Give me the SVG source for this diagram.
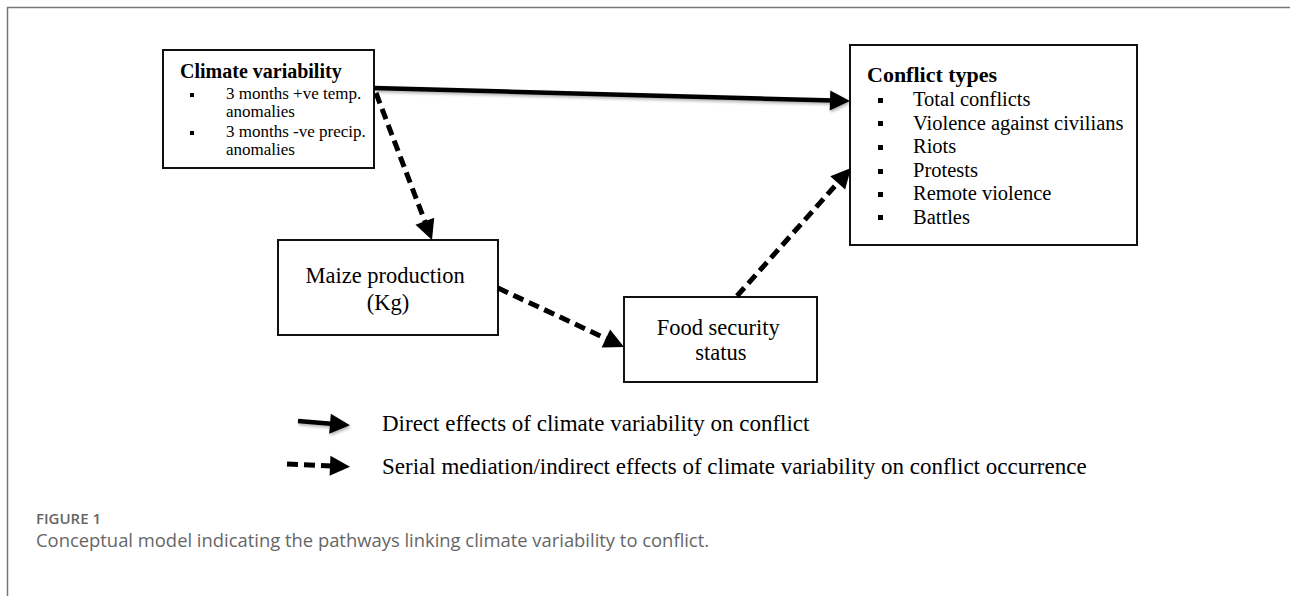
<svg xmlns="http://www.w3.org/2000/svg" width="1290" height="596" viewBox="0 0 1290 596">
  <defs>
    <marker id="head" markerUnits="userSpaceOnUse" markerWidth="20" markerHeight="20" refX="4" refY="10" orient="auto" overflow="visible">
      <path d="M0,0 L20,10 L0,20 Z" fill="#000"/>
    </marker>
    <filter id="shadow" filterUnits="userSpaceOnUse" x="0" y="0" width="1290" height="596">
      <feDropShadow dx="1" dy="2" stdDeviation="1.5" flood-color="#000" flood-opacity="0.3"/>
    </filter>
    <style>
      .box { fill: #fff; stroke: #111; stroke-width: 2; }
      .title { font-family: "Liberation Serif", "Times New Roman", serif; font-weight: bold; fill: #000; }
      .txt { font-family: "Liberation Serif", "Times New Roman", serif; fill: #000; }
      .solid { stroke: #000; stroke-width: 4.5; fill: none; marker-end: url(#head); }
      .dash { stroke: #000; stroke-width: 5; fill: none; stroke-dasharray: 11 6; marker-end: url(#head); }
      .cap { font-family: "Open Sans", "Noto Sans", sans-serif; fill: #666; }
    </style>
  </defs>
  <rect x="0" y="0" width="1290" height="596" fill="#fff"/>
  <rect x="7.5" y="7.5" width="1300" height="600" fill="none" stroke="#777" stroke-width="1.5"/>

  <g id="climate">
    <rect class="box" x="163" y="50" width="211" height="118"/>
    <text class="title" x="180" y="78" font-size="20">Climate variability</text>
    <rect x="190" y="93" width="4" height="4" fill="#000"/>
    <rect x="190" y="131" width="4" height="4" fill="#000"/>
    <text class="txt" font-size="17">
      <tspan x="226" y="99">3 months +ve temp.</tspan>
      <tspan x="226" y="117">anomalies</tspan>
      <tspan x="226" y="137">3 months -ve precip.</tspan>
      <tspan x="226" y="155">anomalies</tspan>
    </text>
  </g>

  <g id="conflict">
    <rect class="box" x="850" y="45" width="287" height="200"/>
    <text class="title" x="867" y="82" font-size="22">Conflict types</text>
    <g fill="#000">
      <rect x="878" y="98" width="5" height="5"/>
      <rect x="878" y="121" width="5" height="5"/>
      <rect x="878" y="145" width="5" height="5"/>
      <rect x="878" y="169" width="5" height="5"/>
      <rect x="878" y="192" width="5" height="5"/>
      <rect x="878" y="215" width="5" height="5"/>
    </g>
    <text class="txt" font-size="20.5">
      <tspan x="913" y="106">Total conflicts</tspan>
      <tspan x="913" y="129.5">Violence against civilians</tspan>
      <tspan x="913" y="153">Riots</tspan>
      <tspan x="913" y="176.5">Protests</tspan>
      <tspan x="913" y="200">Remote violence</tspan>
      <tspan x="913" y="223.5">Battles</tspan>
    </text>
  </g>

  <g id="maize">
    <rect class="box" x="278" y="240" width="220" height="95"/>
    <text class="txt" font-size="22.5" text-anchor="middle">
      <tspan x="388" y="283">Maize production</tspan>
      <tspan x="388" y="310">(Kg)</tspan>
    </text>
  </g>

  <g id="food">
    <rect class="box" x="624" y="297" width="193" height="85"/>
    <text class="txt" font-size="22.5" text-anchor="middle">
      <tspan x="721" y="335">Food security</tspan>
      <tspan x="721" y="360">status</tspan>
    </text>
  </g>

  <g id="connectors">
    <line class="solid" filter="url(#shadow)" x1="374" y1="88" x2="834" y2="100.56"/>
    <line class="dash" x1="376" y1="93" x2="426.3" y2="225.05"/>
    <line class="dash" x1="498" y1="288" x2="609.5" y2="340.2"/>
    <line class="dash" x1="737" y1="296" x2="840.36" y2="179.95"/>
  </g>

  <g id="legend">
    <line class="solid" filter="url(#shadow)" x1="298" y1="421" x2="334" y2="424"/>
    <line class="dash" x1="287" y1="464" x2="334" y2="466"/>
    <text class="txt" font-size="23" x="382" y="431">Direct effects of climate variability on conflict</text>
    <text class="txt" font-size="23" x="382" y="474">Serial mediation/indirect effects of climate variability on conflict occurrence</text>
  </g>

  <g id="caption">
    <text class="cap" x="36" y="524" font-size="15" font-weight="600">FIGURE 1</text>
    <text class="cap" x="36" y="547" font-size="18.4">Conceptual model indicating the pathways linking climate variability to conflict.</text>
  </g>
</svg>
